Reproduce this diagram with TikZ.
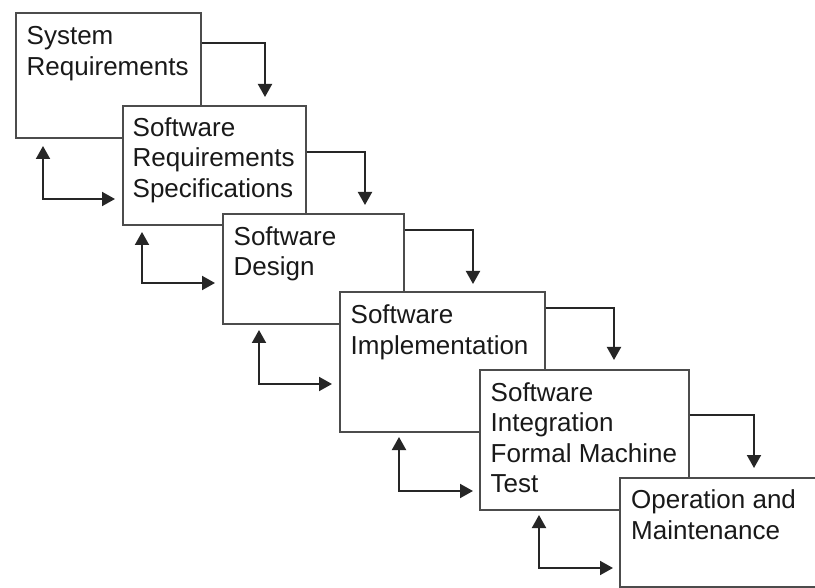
\documentclass[tikz,border=0pt]{standalone}
\usepackage{fontspec}
\setmainfont{Liberation Sans}
\usetikzlibrary{arrows.meta,calc}
\begin{document}
\begin{tikzpicture}[x=1pt,y=-1pt,
  stage/.style={draw=black!70, fill=white, line width=1.6pt, rectangle, inner sep=0pt, anchor=north west},
  label/.style={anchor=north west, inner sep=0pt, align=left, font=\fontsize{26}{30.5}\selectfont, text=black!90},
  flow/.style={draw=black!85, line width=1.9pt, -{Triangle[length=13pt,width=14pt]}},
  back/.style={draw=black!85, line width=1.9pt, {Triangle[length=13pt,width=14pt]}-{Triangle[length=13pt,width=14pt]}}]
\useasboundingbox (0,0) rectangle (815,588);
\clip (0,0) rectangle (815,588);
\fill[white] (0,0) rectangle (815,588);
% boxes
\node[stage, minimum width=185pt, minimum height=125pt] (b1) at (15,12) {};
\node[label] (t1) at ($(b1.north west)+(11.5,12.5)$) {\rule{0pt}{20pt}System\\Requirements};
\node[stage, minimum width=183pt, minimum height=119pt] (b2) at (122,105) {};
\node[label] (t2) at ($(b2.north west)+(10.5,11)$) {\rule{0pt}{20pt}Software\\Requirements\\Specifications};
\node[stage, minimum width=181pt, minimum height=110pt] (b3) at (222,213) {};
\node[label] (t3) at ($(b3.north west)+(11.5,12)$) {\rule{0pt}{20pt}Software\\Design};
\node[stage, minimum width=205pt, minimum height=140pt] (b4) at (339,291) {};
\node[label] (t4) at ($(b4.north west)+(11.5,12.5)$) {\rule{0pt}{20pt}Software\\Implementation};
\node[stage, minimum width=209pt, minimum height=140pt] (b5) at (479,369) {};
\node[label] (t5) at ($(b5.north west)+(11.5,12)$) {\rule{0pt}{20pt}Software\\Integration\\Formal Machine\\Test};
\node[stage, minimum width=215pt, minimum height=109pt] (b6) at (619,477) {};
\node[label] (t6) at ($(b6.north west)+(12,11.5)$) {\rule{0pt}{20pt}Operation and\\Maintenance};
% forward connectors
\coordinate (e1) at (265,97);
\coordinate (e2) at (365,205);
\coordinate (e3) at (473,284);
\coordinate (e4) at (614,360);
\coordinate (e5) at (754,468);
\draw[flow] (b1.east |- 0,43) -| (e1);
\draw[flow] (b2.east |- 0,152) -| (e2);
\draw[flow] (b3.east |- 0,230) -| (e3);
\draw[flow] (b4.east |- 0,308) -| (e4);
\draw[flow] (b5.east |- 0,415) -| (e5);
% feedback connectors
\coordinate (u1) at (43,146);  \coordinate (r1) at (115,199);
\coordinate (u2) at (142,232); \coordinate (r2) at (215,283);
\coordinate (u3) at (259,330); \coordinate (r3) at (332,384);
\coordinate (u4) at (399,437); \coordinate (r4) at (473,491);
\coordinate (u5) at (539,515); \coordinate (r5) at (613,568);
\draw[back] (u1) |- (r1);
\draw[back] (u2) |- (r2);
\draw[back] (u3) |- (r3);
\draw[back] (u4) |- (r4);
\draw[back] (u5) |- (r5);
\end{tikzpicture}
\end{document}
